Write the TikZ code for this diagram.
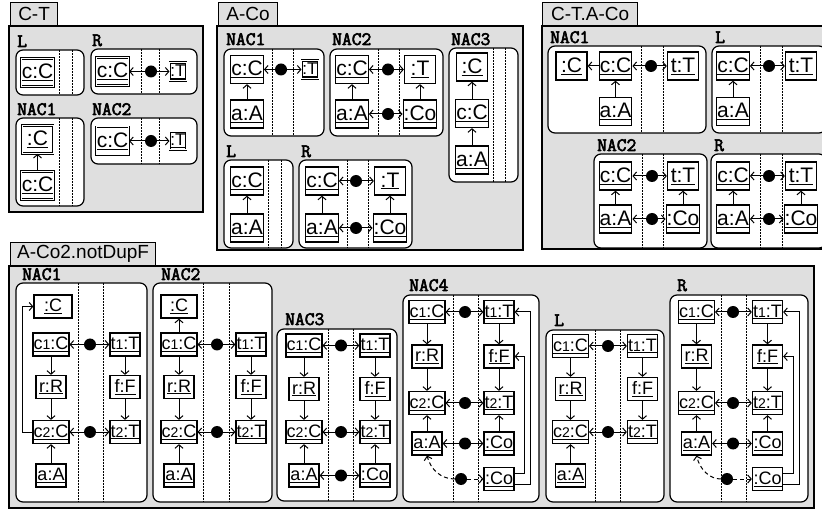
\documentclass[tikz,border=0pt]{standalone}
\usepackage{fontspec}
\setmainfont{Liberation Sans}
\newfontfamily\titlefont{Latin Modern Mono}[FakeBold=3]
\usetikzlibrary{arrows.meta}

\newcommand{\ob}[1]{\underline{#1}}
\newcommand{\ix}[1]{{\fontsize{14}{14}\selectfont #1}}

\begin{document}
\begin{tikzpicture}[x=1pt, y=-1pt,
    frame/.style={draw, fill=gray!25, line width=1.2pt},
    tabbox/.style={frame, anchor=south west, inner sep=0pt, minimum height=23pt, font=\fontsize{19}{19}\selectfont},
    panel/.style={draw, fill=white, rounded corners=7pt, line width=1.2pt},
    sep/.style={densely dotted, line width=0.5pt},
    title/.style={anchor=base west, inner sep=0pt, font=\fontsize{19}{19}\selectfont\titlefont},
    obj/.style={draw, fill=white, line width=1.3pt, font=\fontsize{21}{21}\selectfont, minimum width=31pt, minimum height=28pt, inner sep=0.5pt},
    sobj/.style={obj, font=\fontsize{18}{18}\selectfont, minimum width=30pt, minimum height=23pt, inner sep=0.5pt},
    dobj/.style={obj, double, double distance=1pt, line width=0.7pt},
    tiny/.style={dobj, minimum width=0pt, minimum height=18pt, inner sep=0.6pt, font=\fontsize{17}{17}\selectfont},
    dot/.style={circle, fill=black, minimum size=12pt, inner sep=0pt},
    edge/.style={-{Straight Barb[length=3.5pt,width=8pt]}, line width=1pt},
    dlink/.style={edge, dash pattern=on 4pt off 3pt}
  ]

  % Canvas
  \path[use as bounding box] (0,0) rectangle (822,510);
  \clip (0,0) rectangle (822,510);

  %% ---------- C-T ----------
  \draw[frame] (9,26) rectangle (203,212);
  \node[tabbox, minimum width=47pt] (cttab) at (10,26) {C-T};

  % L
  \draw[panel] (16,50) rectangle (84,95);
  \node[title] (ctLlab) at (17,47) {L};
  \foreach \x in {59,72} \draw[sep] (\x,50) -- (\x,95);
  \node[dobj] (ctLc) at (37.5,72.5) {\ob{c:C}};

  % R
  \draw[panel] (91,49) rectangle (197,94);
  \node[title] (ctRlab) at (92,46) {R};
  \foreach \x in {141,159} \draw[sep] (\x,49) -- (\x,94);
  \node[dobj] (ctRc) at (112.5,71.5) {\ob{c:C}};
  \node[dot] (ctRb) at (151,71.5) {};
  \node[tiny] (ctRt) at (178,71.5) {\ob{:T}};
  \draw[edge] (ctRb) -- (ctRc);
  \draw[edge] (ctRb) -- (ctRt);

  % NAC1
  \draw[panel] (16,118) rectangle (84,206);
  \node[title] (ctN1lab) at (17,115) {NAC1};
  \foreach \x in {59,72} \draw[sep] (\x,118) -- (\x,206);
  \node[dobj] (ctN1top) at (37.5,139.5) {\ob{:C}};
  \node[dobj] (ctN1c) at (37.5,185.5) {\ob{c:C}};
  \draw[edge] (ctN1c) -- (ctN1top);

  % NAC2
  \draw[panel] (91,118) rectangle (197,164);
  \node[title] (ctN2lab) at (92,115) {NAC2};
  \foreach \x in {141,159} \draw[sep] (\x,118) -- (\x,164);
  \node[dobj] (ctN2c) at (112.5,141) {\ob{c:C}};
  \node[dot] (ctN2b) at (151,141) {};
  \node[tiny] (ctN2t) at (178,141) {\ob{:T}};
  \draw[edge] (ctN2b) -- (ctN2c);
  \draw[edge] (ctN2b) -- (ctN2t);

  %% ---------- A-Co ----------
  \draw[frame] (217,26) rectangle (523,250);
  \node[tabbox, minimum width=59pt] (actab) at (218,26) {A-Co};

  % NAC1
  \draw[panel] (224,49) rectangle (324,136);
  \node[title] (acN1lab) at (226,45) {NAC1};
  \foreach \x in {272,293} \draw[sep] (\x,49) -- (\x,136);
  \node[obj] (acN1c) at (247,69.5) {\ob{c:C}};
  \node[obj] (acN1a) at (247,114) {\ob{a:A}};
  \node[dot] (acN1b) at (281,69.5) {};
  \node[tiny] (acN1t) at (310,69.5) {\ob{:T}};
  \draw[edge] (acN1a) -- (acN1c);
  \draw[edge] (acN1b) -- (acN1c);
  \draw[edge] (acN1b) -- (acN1t);

  % NAC2
  \draw[panel] (330,49) rectangle (443,136);
  \node[title] (acN2lab) at (332,45) {NAC2};
  \foreach \x in {378,399} \draw[sep] (\x,49) -- (\x,136);
  \node[obj] (acN2c) at (352,69.5) {\ob{c:C}};
  \node[obj] (acN2a) at (352,114) {\ob{a:A}};
  \node[dot] (acN2b1) at (388,69.5) {};
  \node[dot] (acN2b2) at (388,114) {};
  \node[obj] (acN2t) at (420,69.5) {\ob{:T}};
  \node[obj] (acN2co) at (420,114) {\ob{:Co}};
  \draw[edge] (acN2a) -- (acN2c);
  \draw[edge] (acN2co) -- (acN2t);
  \draw[edge] (acN2b1) -- (acN2c);
  \draw[edge] (acN2b1) -- (acN2t);
  \draw[edge] (acN2b2) -- (acN2a);
  \draw[edge] (acN2b2) -- (acN2co);

  % NAC3
  \draw[panel] (449,48) rectangle (518,182);
  \node[title] (acN3lab) at (451,45) {NAC3};
  \foreach \x in {493,505} \draw[sep] (\x,48) -- (\x,182);
  \node[obj] (acN3top) at (472,67) {\ob{:C}};
  \node[obj] (acN3c) at (472,113.5) {\ob{c:C}};
  \node[obj] (acN3a) at (472,160) {\ob{a:A}};
  \draw[edge] (acN3a) -- (acN3c);
  \draw[edge] (acN3c) -- (acN3top);

  % L
  \draw[panel] (224,160) rectangle (293,248);
  \node[title] (acLlab) at (226,157) {L};
  \foreach \x in {268,281} \draw[sep] (\x,160) -- (\x,248);
  \node[obj] (acLc) at (247,181) {\ob{c:C}};
  \node[obj] (acLa) at (247,228) {\ob{a:A}};
  \draw[edge] (acLa) -- (acLc);

  % R
  \draw[panel] (299,160) rectangle (412,248);
  \node[title] (acRlab) at (301,157) {R};
  \foreach \x in {347,368} \draw[sep] (\x,160) -- (\x,248);
  \node[obj] (acRc) at (322,181) {\ob{c:C}};
  \node[obj] (acRa) at (322,228) {\ob{a:A}};
  \node[dot] (acRb1) at (356,181) {};
  \node[dot] (acRb2) at (356,228) {};
  \node[obj] (acRt) at (390,181) {\ob{:T}};
  \node[obj] (acRco) at (390,228) {\ob{:Co}};
  \draw[edge] (acRa) -- (acRc);
  \draw[edge] (acRco) -- (acRt);
  \draw[edge] (acRb1) -- (acRc);
  \draw[edge] (acRb1) -- (acRt);
  \draw[edge] (acRb2) -- (acRa);
  \draw[edge] (acRb2) -- (acRco);

  %% ---------- C-T.A-Co ----------
  \draw[frame] (542,26) rectangle (832,249);
  \node[tabbox, minimum width=95pt] (ctatab) at (542,26) {C-T.A-Co};

  % NAC1
  \draw[panel] (548,46) rectangle (706,133);
  \node[title] (ctaN1lab) at (550,43) {NAC1};
  \foreach \x in {641,663} \draw[sep] (\x,46) -- (\x,133);
  \node[obj] (ctaN1top) at (571.5,66) {\ob{:C}};
  \node[obj] (ctaN1c) at (615.5,66) {\ob{c:C}};
  \node[obj] (ctaN1a) at (615.5,111.5) {\ob{a:A}};
  \node[dot] (ctaN1b) at (651,66) {};
  \node[obj] (ctaN1t) at (683,66) {\ob{t:T}};
  \draw[edge] (ctaN1c) -- (ctaN1top);
  \draw[edge] (ctaN1a) -- (ctaN1c);
  \draw[edge] (ctaN1b) -- (ctaN1c);
  \draw[edge] (ctaN1b) -- (ctaN1t);

  % L
  \draw[panel] (712,46) rectangle (826,133);
  \node[title] (ctaLlab) at (715,43) {L};
  \foreach \x in {760,782} \draw[sep] (\x,46) -- (\x,133);
  \node[obj] (ctaLc) at (733,66) {\ob{c:C}};
  \node[obj] (ctaLa) at (733,111.5) {\ob{a:A}};
  \node[dot] (ctaLb) at (769,66) {};
  \node[obj] (ctaLt) at (801,66) {\ob{t:T}};
  \draw[edge] (ctaLa) -- (ctaLc);
  \draw[edge] (ctaLb) -- (ctaLc);
  \draw[edge] (ctaLb) -- (ctaLt);

  % NAC2
  \draw[panel] (594,154) rectangle (707,248);
  \node[title] (ctaN2lab) at (597,151) {NAC2};
  \foreach \x in {642,663} \draw[sep] (\x,154) -- (\x,248);
  \node[obj] (ctaN2c) at (615.5,176) {\ob{c:C}};
  \node[obj] (ctaN2a) at (615.5,219) {\ob{a:A}};
  \node[dot] (ctaN2b1) at (652,176) {};
  \node[dot] (ctaN2b2) at (652,219) {};
  \node[obj] (ctaN2t) at (683,176) {\ob{t:T}};
  \node[obj] (ctaN2co) at (683,219) {\ob{:Co}};
  \draw[edge] (ctaN2a) -- (ctaN2c);
  \draw[edge] (ctaN2co) -- (ctaN2t);
  \draw[edge] (ctaN2b1) -- (ctaN2c);
  \draw[edge] (ctaN2b1) -- (ctaN2t);
  \draw[edge] (ctaN2b2) -- (ctaN2a);
  \draw[edge] (ctaN2b2) -- (ctaN2co);

  % R
  \draw[panel] (711,154) rectangle (826,248);
  \node[title] (ctaRlab) at (714,151) {R};
  \foreach \x in {760,782} \draw[sep] (\x,154) -- (\x,248);
  \node[obj] (ctaRc) at (733,176) {\ob{c:C}};
  \node[obj] (ctaRa) at (733,219) {\ob{a:A}};
  \node[dot] (ctaRb1) at (769,176) {};
  \node[dot] (ctaRb2) at (769,219) {};
  \node[obj] (ctaRt) at (801,176) {\ob{t:T}};
  \node[obj] (ctaRco) at (801,219) {\ob{:Co}};
  \draw[edge] (ctaRa) -- (ctaRc);
  \draw[edge] (ctaRco) -- (ctaRt);
  \draw[edge] (ctaRb1) -- (ctaRc);
  \draw[edge] (ctaRb1) -- (ctaRt);
  \draw[edge] (ctaRb2) -- (ctaRa);
  \draw[edge] (ctaRb2) -- (ctaRco);

  %% ---------- A-Co2.notDupF ----------
  \draw[frame] (9,266) rectangle (814,508);
  \node[tabbox, minimum width=145pt] (ndtab) at (10,266) {A-Co2.notDupF};

  % NAC1
  \draw[panel] (16,283) rectangle (147,502);
  \node[title] (n1lab) at (22,280) {NAC1};
  \foreach \x in {78,103} \draw[sep] (\x,283) -- (\x,502);
  \node[sobj, minimum width=38pt] (n1top) at (53,306.5) {\ob{:C}};
  \node[sobj] (n1c1) at (51,344.5) {\ob{c\ix{1}:C}};
  \node[sobj] (n1r) at (51,387) {\ob{r:R}};
  \node[sobj] (n1c2) at (51,432) {\ob{c\ix{2}:C}};
  \node[sobj] (n1a) at (51,475.5) {\ob{a:A}};
  \node[sobj] (n1t1) at (125,344.5) {\ob{t\ix{1}:T}};
  \node[sobj] (n1f) at (125,387) {\ob{f:F}};
  \node[sobj] (n1t2) at (125,432) {\ob{t\ix{2}:T}};
  \node[dot] (n1b1) at (90,344.5) {};
  \node[dot] (n1b2) at (90,432) {};
  \draw[edge] (n1c1) -- (n1r);
  \draw[edge] (n1r) -- (n1c2);
  \draw[edge] (n1a) -- (n1c2);
  \draw[edge] (n1t1) -- (n1f);
  \draw[edge] (n1f) -- (n1t2);
  \draw[edge] (n1b1) -- (n1c1);
  \draw[edge] (n1b1) -- (n1t1);
  \draw[edge] (n1b2) -- (n1c2);
  \draw[edge] (n1b2) -- (n1t2);
  \draw[edge] (n1c2.west) -- ++(-10,0) |- (n1top.west);

  % NAC2
  \draw[panel] (153,283) rectangle (272,502);
  \node[title] (n2lab) at (161,280) {NAC2};
  \foreach \x in {203,229} \draw[sep] (\x,283) -- (\x,502);
  \node[sobj, minimum width=36pt] (n2top) at (179,306.5) {\ob{:C}};
  \node[sobj] (n2c1) at (179,344.5) {\ob{c\ix{1}:C}};
  \node[sobj] (n2r) at (179,387) {\ob{r:R}};
  \node[sobj] (n2c2) at (179,432) {\ob{c\ix{2}:C}};
  \node[sobj] (n2a) at (179,475.5) {\ob{a:A}};
  \node[sobj] (n2t1) at (251,344.5) {\ob{t\ix{1}:T}};
  \node[sobj] (n2f) at (251,387) {\ob{f:F}};
  \node[sobj] (n2t2) at (251,432) {\ob{t\ix{2}:T}};
  \node[dot] (n2b1) at (217,344.5) {};
  \node[dot] (n2b2) at (217,432) {};
  \draw[edge] (n2c1) -- (n2top);
  \draw[edge] (n2c1) -- (n2r);
  \draw[edge] (n2r) -- (n2c2);
  \draw[edge] (n2a) -- (n2c2);
  \draw[edge] (n2t1) -- (n2f);
  \draw[edge] (n2f) -- (n2t2);
  \draw[edge] (n2b1) -- (n2c1);
  \draw[edge] (n2b1) -- (n2t1);
  \draw[edge] (n2b2) -- (n2c2);
  \draw[edge] (n2b2) -- (n2t2);

  % NAC3
  \draw[panel] (277,329) rectangle (397,501);
  \node[title] (n3lab) at (285,325) {NAC3};
  \foreach \x in {328,353} \draw[sep] (\x,329) -- (\x,501);
  \node[sobj] (n3c1) at (304,345.5) {\ob{c\ix{1}:C}};
  \node[sobj] (n3r) at (304,389) {\ob{r:R}};
  \node[sobj] (n3c2) at (304,432) {\ob{c\ix{2}:C}};
  \node[sobj] (n3a) at (304,475.5) {\ob{a:A}};
  \node[sobj] (n3t1) at (375,345.5) {\ob{t\ix{1}:T}};
  \node[sobj] (n3f) at (375,389) {\ob{f:F}};
  \node[sobj] (n3t2) at (375,432) {\ob{t\ix{2}:T}};
  \node[sobj] (n3co) at (375,475.5) {\ob{:Co}};
  \node[dot] (n3b1) at (341,345.5) {};
  \node[dot] (n3b2) at (341,432) {};
  \node[dot] (n3b3) at (341,475.5) {};
  \draw[edge] (n3c1) -- (n3r);
  \draw[edge] (n3r) -- (n3c2);
  \draw[edge] (n3a) -- (n3c2);
  \draw[edge] (n3t1) -- (n3f);
  \draw[edge] (n3f) -- (n3t2);
  \draw[edge] (n3co) -- (n3t2);
  \draw[edge] (n3b1) -- (n3c1);
  \draw[edge] (n3b1) -- (n3t1);
  \draw[edge] (n3b2) -- (n3c2);
  \draw[edge] (n3b2) -- (n3t2);
  \draw[edge] (n3b3) -- (n3a);
  \draw[edge] (n3b3) -- (n3co);

  % NAC4
  \draw[panel] (403,295) rectangle (539,502);
  \node[title] (n4lab) at (409,291) {NAC4};
  \foreach \x in {453,478} \draw[sep] (\x,295) -- (\x,502);
  \node[sobj] (n4c1) at (427,312) {\ob{c\ix{1}:C}};
  \node[sobj] (n4r) at (427,356.5) {\ob{r:R}};
  \node[sobj] (n4c2) at (427,403) {\ob{c\ix{2}:C}};
  \node[sobj] (n4a) at (427,443.5) {\ob{a:A}};
  \node[sobj] (n4t1) at (499,312) {\ob{t\ix{1}:T}};
  \node[sobj] (n4f) at (499,356.5) {\ob{f:F}};
  \node[sobj] (n4t2) at (499,403) {\ob{t\ix{2}:T}};
  \node[sobj] (n4co) at (499,443.5) {\ob{:Co}};
  \node[sobj] (n4cob) at (499,479) {\ob{:Co}};
  \node[dot] (n4b1) at (465,312) {};
  \node[dot] (n4b2) at (465,403) {};
  \node[dot] (n4b3) at (465,443.5) {};
  \node[dot] (n4b4) at (461,479) {};
  \draw[edge] (n4c1) -- (n4r);
  \draw[edge] (n4r) -- (n4c2);
  \draw[edge] (n4a) -- (n4c2);
  \draw[edge] (n4t1) -- (n4f);
  \draw[edge] (n4f) -- (n4t2);
  \draw[edge] (n4co) -- (n4t2);
  \draw[edge] (n4b1) -- (n4c1);
  \draw[edge] (n4b1) -- (n4t1);
  \draw[edge] (n4b2) -- (n4c2);
  \draw[edge] (n4b2) -- (n4t2);
  \draw[edge] (n4b3) -- (n4a);
  \draw[edge] (n4b3) -- (n4co);
  \draw[edge] ([yshift=6pt]n4cob.east) -- ++(10,0) |- (n4f.east);
  \draw[edge] ([yshift=-5pt]n4cob.east) -- ++(16,0) |- (n4t1.east);
  \draw[dlink] (n4b4.west) .. controls (441,479) and (431,470) .. (n4a.south);
  \draw[dlink] (n4b4) -- (n4cob);

  % L
  \draw[panel] (546,330) rectangle (664,502);
  \node[title] (nLlab) at (554,326) {L};
  \foreach \x in {595,620} \draw[sep] (\x,330) -- (\x,502);
  \node[sobj] (nLc1) at (570.5,346) {\ob{c\ix{1}:C}};
  \node[sobj] (nLr) at (570.5,389) {\ob{r:R}};
  \node[sobj] (nLc2) at (570.5,432) {\ob{c\ix{2}:C}};
  \node[sobj] (nLa) at (570.5,475.5) {\ob{a:A}};
  \node[sobj] (nLt1) at (642.5,346) {\ob{t\ix{1}:T}};
  \node[sobj] (nLf) at (642.5,389) {\ob{f:F}};
  \node[sobj] (nLt2) at (642.5,432) {\ob{t\ix{2}:T}};
  \node[dot] (nLb1) at (608,346) {};
  \node[dot] (nLb2) at (608,432) {};
  \draw[edge] (nLc1) -- (nLr);
  \draw[edge] (nLr) -- (nLc2);
  \draw[edge] (nLa) -- (nLc2);
  \draw[edge] (nLt1) -- (nLf);
  \draw[edge] (nLf) -- (nLt2);
  \draw[edge] (nLb1) -- (nLc1);
  \draw[edge] (nLb1) -- (nLt1);
  \draw[edge] (nLb2) -- (nLc2);
  \draw[edge] (nLb2) -- (nLt2);

  % R
  \draw[panel] (670,295) rectangle (808,502);
  \node[title] (nRlab) at (677,291) {R};
  \foreach \x in {721,746} \draw[sep] (\x,295) -- (\x,502);
  \node[sobj] (nRc1) at (696.5,312) {\ob{c\ix{1}:C}};
  \node[sobj] (nRr) at (696.5,356.5) {\ob{r:R}};
  \node[sobj] (nRc2) at (696.5,403) {\ob{c\ix{2}:C}};
  \node[sobj] (nRa) at (696.5,443.5) {\ob{a:A}};
  \node[sobj] (nRt1) at (767.5,312) {\ob{t\ix{1}:T}};
  \node[sobj] (nRf) at (767.5,356.5) {\ob{f:F}};
  \node[sobj] (nRt2) at (767.5,403) {\ob{t\ix{2}:T}};
  \node[sobj] (nRco) at (767.5,443.5) {\ob{:Co}};
  \node[sobj] (nRcob) at (767.5,479) {\ob{:Co}};
  \node[dot] (nRb1) at (733,312) {};
  \node[dot] (nRb2) at (733,403) {};
  \node[dot] (nRb3) at (733,443.5) {};
  \node[dot] (nRb4) at (727,479) {};
  \draw[edge] (nRc1) -- (nRr);
  \draw[edge] (nRr) -- (nRc2);
  \draw[edge] (nRa) -- (nRc2);
  \draw[edge] (nRt1) -- (nRf);
  \draw[edge] (nRf) -- (nRt2);
  \draw[edge] (nRco) -- (nRt2);
  \draw[edge] (nRb1) -- (nRc1);
  \draw[edge] (nRb1) -- (nRt1);
  \draw[edge] (nRb2) -- (nRc2);
  \draw[edge] (nRb2) -- (nRt2);
  \draw[edge] (nRb3) -- (nRa);
  \draw[edge] (nRb3) -- (nRco);
  \draw[edge] ([yshift=6pt]nRcob.east) -- ++(10,0) |- (nRf.east);
  \draw[edge] ([yshift=-5pt]nRcob.east) -- ++(16,0) |- (nRt1.east);
  \draw[dlink] (nRb4.west) .. controls (710,479) and (700,470) .. (nRa.south);
  \draw[dlink] (nRb4) -- (nRcob);

\end{tikzpicture}
\end{document}
